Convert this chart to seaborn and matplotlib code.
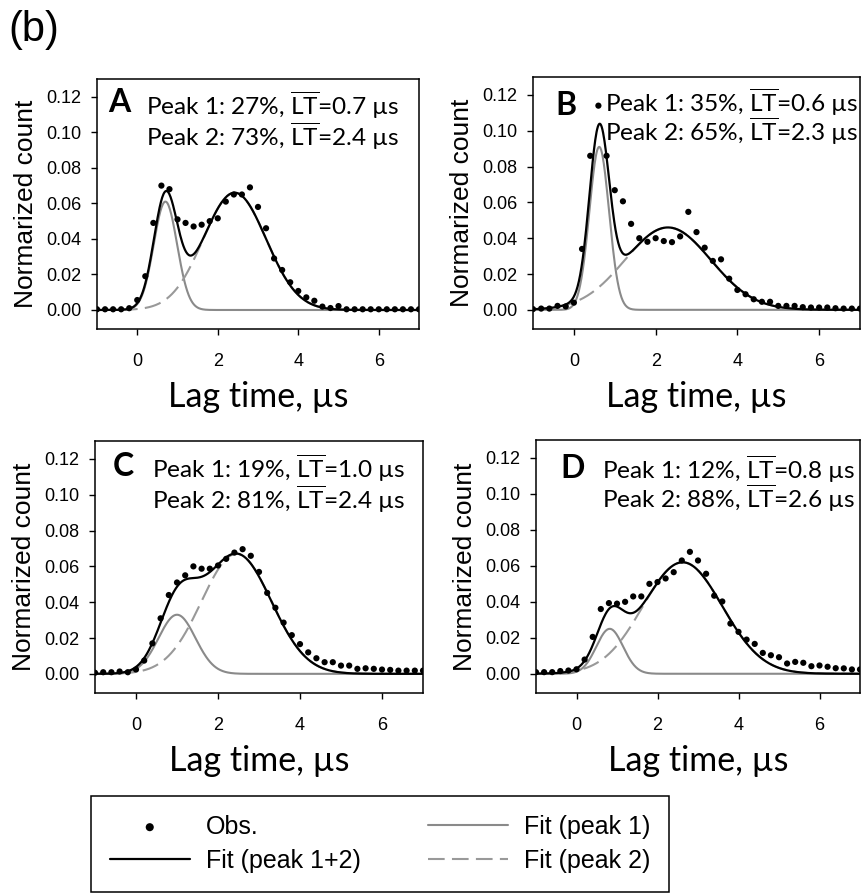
import numpy as np
import pandas as pd
import seaborn as sns
import matplotlib.pyplot as plt

# observed lag-time histogram (normalized counts), sampled every 0.2 us
lag_time = [-1.0, -0.8, -0.6, -0.4, -0.2, 0.0, 0.2, 0.4, 0.6, 0.8,
            1.0, 1.2, 1.4, 1.6, 1.8, 2.0, 2.2, 2.4, 2.6, 2.8,
            3.0, 3.2, 3.4, 3.6, 3.8, 4.0, 4.2, 4.4, 4.6, 4.8,
            5.0, 5.2, 5.4, 5.6, 5.8, 6.0, 6.2, 6.4, 6.6, 6.8, 7.0]

obs_A = [0.0004, 0.0004, 0.0004, 0.0004, 0.0010, 0.0056, 0.019, 0.049, 0.070, 0.068,
         0.051, 0.049, 0.047, 0.048, 0.050, 0.0516, 0.061, 0.065, 0.065, 0.069,
         0.058, 0.046, 0.029, 0.0225, 0.0156, 0.0107, 0.0071, 0.0052, 0.0019, 0.0011,
         0.0022, 0.0004, 0.0004, 0.0004, 0.0004, 0.0004, 0.0004, 0.0004, 0.0004, 0.0004, 0.0004]
obs_B = [0.0004, 0.0007, 0.0007, 0.0022, 0.0019, 0.004, 0.034, 0.086, 0.114, 0.086,
         0.0668, 0.0606, 0.048, 0.040, 0.038, 0.040, 0.0384, 0.0378, 0.041, 0.0547,
         0.0434, 0.0347, 0.0273, 0.0282, 0.0174, 0.0111, 0.0087, 0.0059, 0.0045, 0.0045,
         0.0022, 0.0022, 0.0022, 0.0015, 0.0013, 0.0013, 0.0013, 0.0009, 0.0007, 0.0007, 0.0007]
obs_C = [0.0006, 0.0009, 0.0009, 0.0013, 0.0009, 0.0024, 0.0074, 0.017, 0.031, 0.044,
         0.051, 0.055, 0.060, 0.0587, 0.0587, 0.0605, 0.0642, 0.0677, 0.0696, 0.0659,
         0.0569, 0.0452, 0.0369, 0.0286, 0.0216, 0.0166, 0.012, 0.0087, 0.0065, 0.0065,
         0.0046, 0.0046, 0.0028, 0.0031, 0.0028, 0.0024, 0.0022, 0.0018, 0.0018, 0.0018, 0.0018]
obs_D = [0.0009, 0.0009, 0.0009, 0.0015, 0.0018, 0.0025, 0.0079, 0.0205, 0.036, 0.0393,
         0.039, 0.040, 0.043, 0.043, 0.050, 0.051, 0.053, 0.0565, 0.063, 0.0678,
         0.063, 0.0556, 0.0434, 0.0402, 0.0279, 0.0233, 0.019, 0.0166, 0.0116, 0.0103,
         0.0092, 0.0057, 0.0066, 0.0061, 0.0042, 0.0046, 0.0039, 0.0031, 0.003, 0.0024, 0.0024]

# gaussian fit parameters per panel: [amplitude, mean, sd]
fit_peak1 = {"A": [0.061, 0.70, 0.29], "B": [0.091, 0.62, 0.24],
             "C": [0.033, 1.00, 0.45], "D": [0.025, 0.82, 0.33]}
fit_peak2 = {"A": [0.066, 2.42, 0.78], "B": [0.046, 2.30, 1.05],
             "C": [0.067, 2.45, 0.85], "D": [0.062, 2.62, 0.98]}

share_1 = {"A": "27", "B": "35", "C": "19", "D": "12"}
share_2 = {"A": "73", "B": "65", "C": "81", "D": "88"}
lt_1 = {"A": "0.7", "B": "0.6", "C": "1.0", "D": "0.8"}
lt_2 = {"A": "2.4", "B": "2.3", "C": "2.4", "D": "2.6"}

obs = {"A": obs_A, "B": obs_B, "C": obs_C, "D": obs_D}

sns.set_style("ticks")
plt.rcParams['font.family'] = ['Liberation Sans', 'DejaVu Sans']
plt.rcParams['mathtext.fontset'] = 'custom'
plt.rcParams['mathtext.rm'] = 'Lato'
plt.rcParams['mathtext.it'] = 'Lato:italic'
plt.rcParams['mathtext.bf'] = 'Lato:bold'
for k in ['text.color', 'axes.labelcolor', 'xtick.color', 'ytick.color', 'axes.edgecolor']:
    plt.rcParams[k] = 'black'

W, H = 861, 894
fig = plt.figure(figsize=(W / 100, H / 100), dpi=100)

# panel boxes in pixels: left, top, right, bottom
boxes = {"A": (97, 79, 419, 329), "B": (533, 77, 860, 329),
         "C": (95, 441, 423, 693), "D": (536, 440, 860, 693)}
# letter x, text x, letter y, row1 y, row2 y (axes fraction)
txt_pos = {"A": (0.034, 0.152, 0.905, 0.896, 0.770),
           "B": (0.067, 0.220, 0.885, 0.897, 0.782),
           "C": (0.055, 0.174, 0.897, 0.890, 0.768),
           "D": (0.074, 0.204, 0.889, 0.882, 0.769)}

grid = np.linspace(-1, 7, 500)
gray = "#8a8a8a"

axes = {}
for key in ["A", "B", "C", "D"]:
    l, t, r, b = boxes[key]
    ax = fig.add_axes([l / W, 1 - b / H, (r - l) / W, (b - t) / H])
    axes[key] = ax

    a1, m1, s1 = fit_peak1[key]
    a2, m2, s2 = fit_peak2[key]
    p1 = a1 * np.exp(-(grid - m1) ** 2 / (2 * s1 ** 2))
    p2 = a2 * np.exp(-(grid - m2) ** 2 / (2 * s2 ** 2))
    fits = pd.DataFrame({"t": grid, "p1": p1, "p2": p2, "tot": p1 + p2})

    sns.lineplot(data=fits, x="t", y="p1", ax=ax, color=gray, lw=1.5,
                 estimator=None, label="Fit (peak 1)", legend=False)
    sns.lineplot(data=fits, x="t", y="p2", ax=ax, color="#999999", lw=1.5,
                 estimator=None, label="Fit (peak 2)", legend=False)
    ax.lines[-1].set_dashes((8, 3.5))
    sns.lineplot(data=fits, x="t", y="tot", ax=ax, color="black", lw=1.6,
                 estimator=None, label="Fit (peak 1+2)", legend=False)
    sns.scatterplot(x=lag_time, y=obs[key], ax=ax, color="black", s=20,
                    edgecolor="none", label="Obs.", legend=False, zorder=5)

    ax.set_xlim(-1, 7)
    ax.set_ylim(-0.0107, 0.13)
    ax.set_xticks([0, 2, 4, 6])
    ax.set_yticks([0.0, 0.02, 0.04, 0.06, 0.08, 0.10, 0.12])
    ax.set_yticklabels([f"{v:.2f}" for v in [0.0, 0.02, 0.04, 0.06, 0.08, 0.10, 0.12]])
    ax.tick_params(axis="x", direction="out", length=4, width=1, labelsize=13, pad=13.5)
    ax.tick_params(axis="y", direction="out", length=4, width=1, labelsize=13, pad=7)
    for sp in ax.spines.values():
        sp.set_visible(True)
        sp.set_color("black")
        sp.set_linewidth(1.1)

    ax.set_xlabel("Lag time, µs", family=["Lato", "DejaVu Sans"], fontsize=24.5, labelpad=7.5)
    ax.set_ylabel("Normarized count", fontsize=19, labelpad=6)

    lx, tx, ly, r1, r2 = txt_pos[key]
    ax.text(lx, ly, key, transform=ax.transAxes, fontsize=23, fontweight="bold",
            family=["Lato", "DejaVu Sans"], va="center", ha="left")
    ax.text(tx, r1, f"Peak 1: {share_1[key]}%, $\\overline{{\\mathrm{{LT}}}}$={lt_1[key]} µs",
            transform=ax.transAxes, fontsize=17.6, family=["Lato", "DejaVu Sans"],
            va="center", ha="left")
    ax.text(tx, r2, f"Peak 2: {share_2[key]}%, $\\overline{{\\mathrm{{LT}}}}$={lt_2[key]} µs",
            transform=ax.transAxes, fontsize=17.6, family=["Lato", "DejaVu Sans"],
            va="center", ha="left")

fig.text(8 / W, 1 - 30 / H, "(b)", fontsize=30, va="center", ha="left")

handles, labels = axes["A"].get_legend_handles_labels()
order = ["Obs.", "Fit (peak 1+2)", "Fit (peak 1)", "Fit (peak 2)"]
hmap = dict(zip(labels, handles))
leg = fig.legend([hmap[k] for k in order], order, ncol=2, loc="upper left",
                 bbox_to_anchor=(91 / W, 1 - 796 / H), borderaxespad=0,
                 fontsize=18, frameon=True, fancybox=False, handlelength=3.2,
                 handletextpad=0.64, columnspacing=2.7, labelspacing=0.4,
                 borderpad=0.75, markerscale=1.3)
leg.get_frame().set_edgecolor("black")
leg.get_frame().set_linewidth(1.1)
leg.get_frame().set_alpha(1)

fig.savefig("out.png", dpi=100)
